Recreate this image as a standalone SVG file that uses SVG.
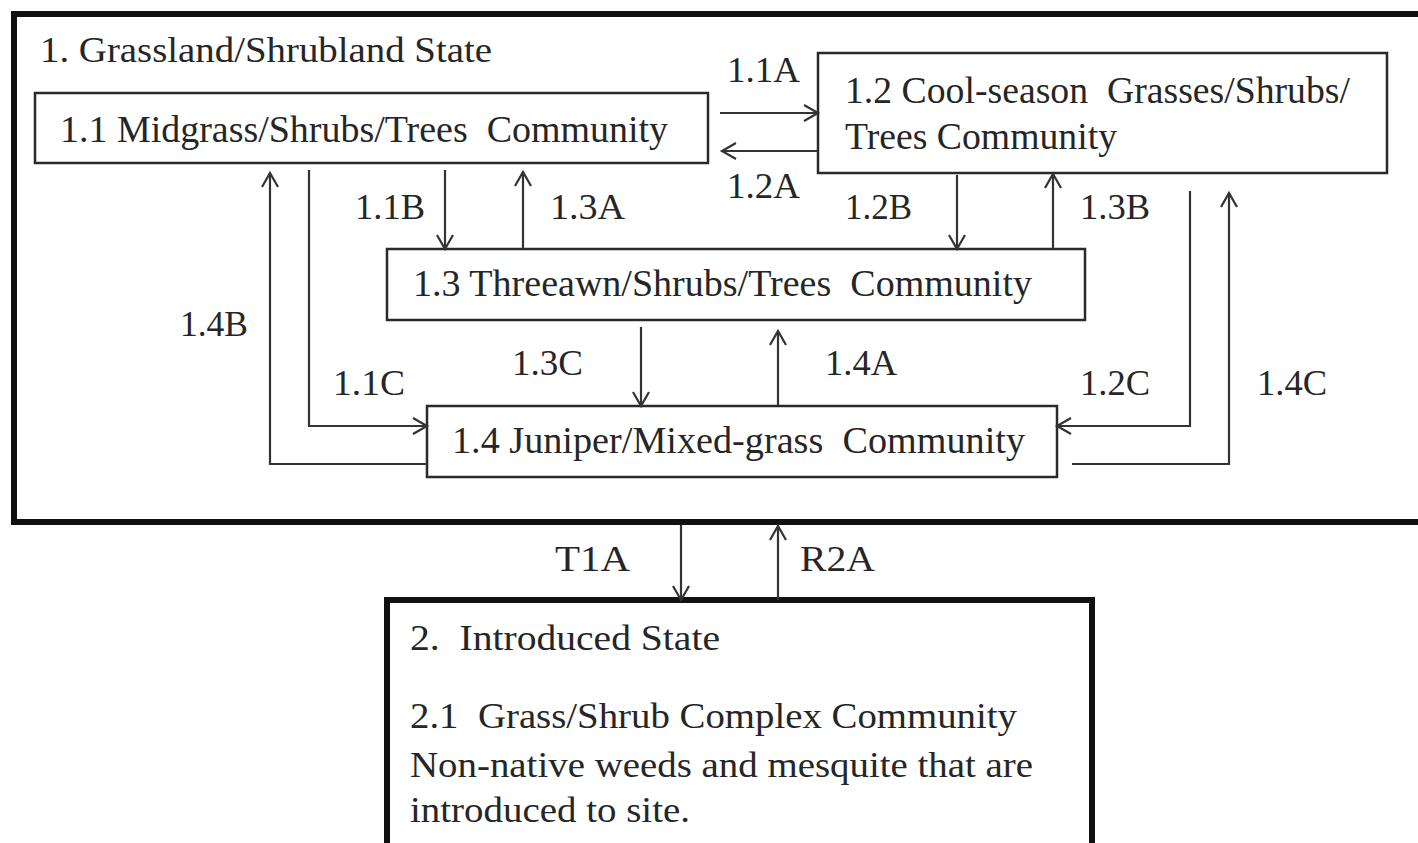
<svg xmlns="http://www.w3.org/2000/svg" width="1418" height="843" viewBox="0 0 1418 843">
<style>
text{font-family:'Liberation Serif','Times New Roman',serif;fill:#262626;white-space:pre}
.t{font-size:36px}
.c{font-size:38px}
.l{font-size:36px}
.box{fill:#fff;stroke:#2a2a2a;stroke-width:2.5}
.state{fill:#fff;stroke:#111;stroke-width:6}
.arr{fill:none;stroke:#333;stroke-width:2.2;marker-end:url(#ah)}
</style>
<defs>
<marker id="ah" markerUnits="userSpaceOnUse" markerWidth="20" markerHeight="20" refX="15" refY="9" orient="auto">
<path d="M1,1 L15,9 L1,17" fill="none" stroke="#333" stroke-width="2.2"/>
</marker>
</defs>
<rect width="1418" height="843" fill="#fff"/>
<g id="state1">
<rect class="state" x="14" y="14" width="1420" height="508"/>
<text class="t" x="40" y="62" textLength="452" lengthAdjust="spacingAndGlyphs">1. Grassland/Shrubland State</text>
</g>
<g id="n11">
<rect class="box" x="35" y="93" width="673" height="70"/>
<text class="c" x="60" y="142" textLength="608" lengthAdjust="spacingAndGlyphs">1.1 Midgrass/Shrubs/Trees  Community</text>
</g>
<g id="n12">
<rect class="box" x="818" y="53" width="569" height="120"/>
<text class="c" x="845" y="103" textLength="505" lengthAdjust="spacingAndGlyphs">1.2 Cool-season  Grasses/Shrubs/</text>
<text class="c" x="845" y="149" textLength="272" lengthAdjust="spacingAndGlyphs">Trees Community</text>
</g>
<g id="n13">
<rect class="box" x="387" y="249" width="698" height="71"/>
<text class="c" x="413" y="296" textLength="619" lengthAdjust="spacingAndGlyphs">1.3 Threeawn/Shrubs/Trees  Community</text>
</g>
<g id="n14">
<rect class="box" x="427" y="406" width="630" height="71"/>
<text class="c" x="452" y="453" textLength="573" lengthAdjust="spacingAndGlyphs">1.4 Juniper/Mixed-grass  Community</text>
</g>
<g id="state2">
<rect class="state" x="387" y="600" width="705" height="250"/>
<text class="t" x="410" y="650" textLength="310" lengthAdjust="spacingAndGlyphs">2.  Introduced State</text>
<text class="t" x="410" y="728" textLength="607" lengthAdjust="spacingAndGlyphs">2.1  Grass/Shrub Complex Community</text>
<text class="t" x="410" y="777" textLength="623" lengthAdjust="spacingAndGlyphs">Non-native weeds and mesquite that are</text>
<text class="t" x="410" y="822" textLength="280" lengthAdjust="spacingAndGlyphs">introduced to site.</text>
</g>
<g id="connectors">
<line class="arr" x1="720" y1="113" x2="818" y2="113"/>
<line class="arr" x1="818" y1="151" x2="722" y2="151"/>
<line class="arr" x1="445" y1="170" x2="445" y2="249"/>
<line class="arr" x1="523" y1="249" x2="523" y2="172"/>
<line class="arr" x1="957" y1="175" x2="957" y2="249"/>
<line class="arr" x1="1053" y1="249" x2="1053" y2="174"/>
<line class="arr" x1="641" y1="327" x2="641" y2="406"/>
<line class="arr" x1="778" y1="406" x2="778" y2="331"/>
<path class="arr" d="M309,170 V426 H427"/>
<path class="arr" d="M427,464 H270 V173"/>
<path class="arr" d="M1190,191 V426 H1057"/>
<path class="arr" d="M1072,464 H1229 V193"/>
<line class="arr" x1="681" y1="525" x2="681" y2="600"/>
<line class="arr" x1="778" y1="600" x2="778" y2="526"/>
</g>
<g id="labels">
<text class="l" x="727" y="82" textLength="73" lengthAdjust="spacingAndGlyphs">1.1A</text>
<text class="l" x="727" y="198" textLength="73" lengthAdjust="spacingAndGlyphs">1.2A</text>
<text class="l" x="355" y="219" textLength="70" lengthAdjust="spacingAndGlyphs">1.1B</text>
<text class="l" x="550" y="219" textLength="75" lengthAdjust="spacingAndGlyphs">1.3A</text>
<text class="l" x="845" y="219" textLength="67" lengthAdjust="spacingAndGlyphs">1.2B</text>
<text class="l" x="1080" y="219" textLength="70" lengthAdjust="spacingAndGlyphs">1.3B</text>
<text class="l" x="180" y="336" textLength="68" lengthAdjust="spacingAndGlyphs">1.4B</text>
<text class="l" x="333" y="395" textLength="72" lengthAdjust="spacingAndGlyphs">1.1C</text>
<text class="l" x="512" y="375" textLength="71" lengthAdjust="spacingAndGlyphs">1.3C</text>
<text class="l" x="825" y="375" textLength="72" lengthAdjust="spacingAndGlyphs">1.4A</text>
<text class="l" x="1080" y="395" textLength="70" lengthAdjust="spacingAndGlyphs">1.2C</text>
<text class="l" x="1257" y="395" textLength="70" lengthAdjust="spacingAndGlyphs">1.4C</text>
<text class="l" x="555" y="571" textLength="75" lengthAdjust="spacingAndGlyphs">T1A</text>
<text class="l" x="800" y="571" textLength="75" lengthAdjust="spacingAndGlyphs">R2A</text>
</g>
</svg>
